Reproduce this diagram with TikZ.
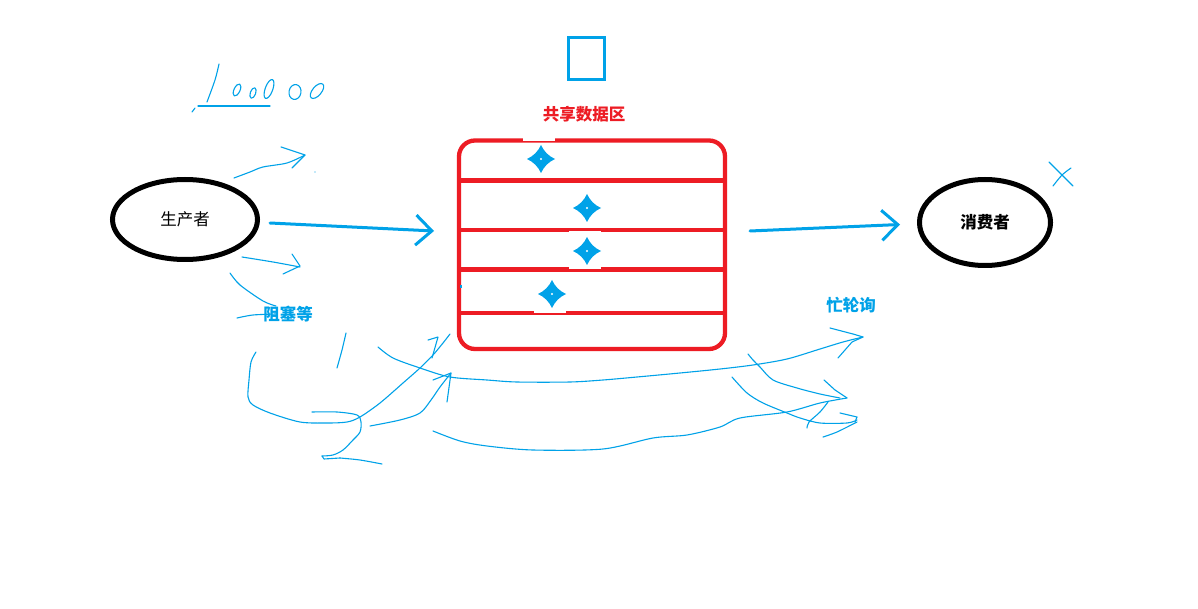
\documentclass[tikz,border=0pt]{standalone}
\usepackage{fontspec}
\newfontfamily\cjk{Noto Sans CJK SC}
\usetikzlibrary{shapes.geometric,arrows.meta}
\definecolor{paintblue}{RGB}{0,162,232}
\definecolor{paintred}{RGB}{237,28,36}
\tikzset{
  pen/.style={paintblue, line width=1.1pt, line cap=round, line join=round},
  flow/.style={paintblue, line width=3pt, line cap=round,
    -{Straight Barb[length=16pt,width=30pt]}},
  role/.style={draw=black, ellipse, line width=5pt, inner sep=0pt,
    font=\cjk\fontsize{16.5}{18}\selectfont},
  tag/.style={inner sep=0pt, font=\cjk\bfseries\fontsize{16.5}{18}\selectfont},
  rowline/.style={paintred, line width=4.3pt},
  spark/.pic={
    \fill[paintblue] (0,-14) .. controls (3,-7.5) and (7.5,-3) .. (14,0)
      .. controls (7.5,3) and (3,7.5) .. (0,14)
      .. controls (-3,7.5) and (-7.5,3) .. (-14,0)
      .. controls (-7.5,-3) and (-3,-7.5) .. cycle;
    \fill[white] (0,0) circle (1.1pt);
  }
}
\begin{document}
\begin{tikzpicture}[x=1pt,y=-1pt]
   \useasboundingbox[fill=white] (0,0) rectangle (1198,609);
   % nodes
   \node[role, minimum width=145pt, minimum height=80pt] (prod) at (185,219.5) {生产者};
   \node[role, minimum width=131pt, minimum height=86pt, font=\cjk\bfseries\fontsize{16.5}{18}\selectfont] (cons) at (985,222.5) {消费者};
   \node[draw=paintred, line width=4.3pt, rounded corners=16pt, outer sep=0pt,
         minimum width=266pt, minimum height=208.5pt] (buf) at (592,244.75) {};
   \node[tag, paintred] (title) at (584,114.5) {共享数据区};
   \node[draw=paintblue, line width=3pt, minimum width=36pt, minimum height=42pt, inner sep=0pt] (slot) at (586.5,58.5) {};
   \node[tag, paintblue] (block) at (288,314) {阻塞等};
   \node[tag, paintblue] (poll) at (851,305) {忙轮询};
   % rows of the buffer
   \foreach \yy in {180.5,230.3,269.5,312.8}
      \draw[rowline] (459,\yy) -- (725,\yy);
   \fill[white] (522.7,138.2) rectangle (555,140.6);
   \fill[white] (569,230.6) rectangle (601,232.6);
   \fill[white] (569,267.2) rectangle (601,269.3);
   \fill[white] (534.3,310.5) rectangle (566,312.6);
   \pic at (541,159) {spark};
   \pic at (587,208) {spark};
   \pic at (587,251) {spark};
   \pic at (552,294) {spark};
   \fill[paintblue] (459.5,285.5) rectangle (461.5,288.5);
   % main arrows
   \draw[flow] ([xshift=10pt,yshift=-3.5pt]prod.east) -- ([xshift=-25pt,yshift=13.75pt]buf.west);
   \draw[flow] ([xshift=25pt,yshift=13.75pt]buf.east) -- ([xshift=-17pt,yshift=-2pt]cons.west);
   % 100000
   \draw[pen] plot[smooth] coordinates {(219,64) (215,80) (207,102)};
   \draw[pen] (198,106) -- (270,106);
   \draw[pen] (192,112) -- (195,108);
   \draw[pen] (237,90) ellipse [x radius=3, y radius=6.5, rotate=-25];
   \draw[pen] (253,93) ellipse [x radius=2.7, y radius=5.5, rotate=-20];
   \draw[pen] (269,89) ellipse [x radius=3.8, y radius=10, rotate=-20];
   \draw[pen] (295,92) ellipse [x radius=6, y radius=7.5, rotate=-10];
   \draw[pen] (317,91) ellipse [x radius=4.5, y radius=9, rotate=-40];
   % x near consumer
   \draw[pen] plot[smooth] coordinates {(1049,162) (1062,175) (1073,186)};
   \draw[pen] plot[smooth] coordinates {(1071,168) (1062,175) (1053,186)};
   % producer scribbles
   \draw[pen] plot[smooth] coordinates {(234,178) (250,172) (263,167) (287,163) (305,155)};
   \draw[pen] (281,147) -- (305,155) -- (292,168);
   \fill[paintblue] (315,172) circle (0.7pt);
   \draw[pen] plot[smooth] coordinates {(242,257) (273,262) (300,267)};
   \draw[pen] (292,254) -- (300,266) -- (283,274);
   \draw[pen] plot[smooth] coordinates {(230,273) (240,285) (263,301) (276,306)};
   \draw[pen] plot[smooth] coordinates {(237,318) (253,315) (276,314)};
   \draw[pen] plot[smooth] coordinates {(346,333) (342,350) (337,368)};
   \draw[pen] plot[smooth] coordinates {(256,352) (251,362) (249,380) (248,397) (253,405) (270,413)
      (300,422) (327,423) (347,422) (360,417) (380,403) (403,383) (420,368) (433,355) (443,343) (450,334)};
   \draw[pen] plot[smooth] coordinates {(312,412) (337,412) (357,415) (361,422) (360,432) (353,440)
      (343,450) (333,455) (322,456)};
   \draw[pen] (322,456) -- (324,459) -- (340,458);
   \draw[pen] plot[smooth] coordinates {(340,458) (360,460) (382,464)};
   \draw[pen] plot[smooth] coordinates {(370,426) (400,420) (420,413) (431,400) (440,387) (451,373)};
   \draw[pen] (433,380) -- (451,373) -- (447,402);
   \draw[pen] (432,358) -- (438,337) -- (428,340);
   % long curves
   \draw[pen] plot[smooth] coordinates {(378,347) (393,358) (420,368) (450,377) (487,380) (517,382)
      (570,382) (603,380) (637,377) (680,373) (720,369) (753,365) (787,359) (820,349) (843,342) (863,337)};
   \draw[pen] (830,328) -- (853,334) -- (863,337) -- (852,342) -- (838,358);
   \draw[pen] plot[smooth] coordinates {(433,431) (460,441) (487,446) (533,450) (603,449) (653,438)
      (687,435) (720,427) (740,418) (787,412) (820,403) (847,398)};
   \draw[pen] (824,380) -- (835,390) -- (847,398);
   \draw[pen] plot[smooth] coordinates {(807,428) (809,422) (820,412) (828,402)};
   \draw[pen] plot[smooth] coordinates {(748,354) (753,360) (760,367) (773,380) (797,388) (820,394) (840,398)};
   \draw[pen] plot[smooth] coordinates {(732,377) (747,393) (763,403) (787,413) (800,418) (820,423) (847,423) (857,420)};
   \draw[pen] (840,413) -- (857,417) -- (855,422);
   \draw[pen] plot[smooth] coordinates {(823,437) (837,432) (857,422)};
\end{tikzpicture}
\end{document}
